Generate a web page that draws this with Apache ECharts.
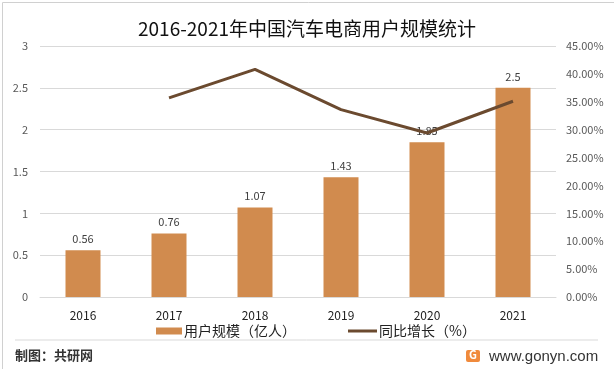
<!DOCTYPE html>
<html><head><meta charset="utf-8">
<script src="https://cdn.jsdelivr.net/npm/echarts@6/dist/echarts.min.js"></script>
<style>html,body{margin:0;padding:0;background:#fff}#c{width:614px;height:369px}</style>
</head><body><div id="c"></div>
<script>
const categories = ['2016','2017','2018','2019','2020','2021'];
const userScale = [0.56, 0.76, 1.07, 1.43, 1.85, 2.5];
const growthRate = [null, 35.7, 40.8, 33.6, 29.4, 35.1];
const leftTicks = [0, 0.5, 1, 1.5, 2, 2.5, 3];
const rightTicks = [0, 5, 10, 15, 20, 25, 30, 35, 40, 45];

const font = '"Noto Sans CJK SC", "Noto Sans", sans-serif';
const chart = echarts.init(document.getElementById('c'));
chart.setOption({
  animation: false,
  textStyle: { fontFamily: font },
  title: {
    text: '2016-2021年中国汽车电商用户规模统计',
    left: 'center', top: 14,
    textStyle: { fontSize: 19, fontWeight: 'normal', color: '#111', fontFamily: font }
  },
  grid: { left: 40, right: 58, top: 46, bottom: 72, containLabel: false },
  legend: [{
    top: 324, left: 156, padding: 0, itemWidth: 26, itemHeight: 7, itemGap: 2,
    textStyle: { fontSize: 14, color: '#222', padding: [0, 0, 0, -3] },
    data: [{ name: '用户规模（亿人）', icon: 'rect' }]
  }, {
    top: 324, left: 348, padding: 0, itemWidth: 29, itemHeight: 3,
    textStyle: { fontSize: 14, color: '#222', padding: [0, 0, 0, -3] },
    data: [{ name: '同比增长（%）', icon: 'rect' }]
  }],
  xAxis: {
    type: 'category', data: categories,
    axisLine: { lineStyle: { color: '#d9d9d9' } },
    axisTick: { show: false },
    axisLabel: { color: '#222', fontSize: 12, margin: 12 }
  },
  yAxis: [{
    type: 'value', min: leftTicks[0], max: leftTicks[leftTicks.length - 1], interval: 0.5,
    axisLine: { show: false }, axisTick: { show: false },
    axisLabel: { color: '#595959', fontSize: 11, margin: 12 },
    splitLine: { lineStyle: { color: '#d9d9d9' } }
  }, {
    type: 'value', min: rightTicks[0], max: rightTicks[rightTicks.length - 1], interval: 5,
    axisLine: { show: false }, axisTick: { show: false },
    axisLabel: { color: '#595959', fontSize: 11, margin: 10, formatter: v => v.toFixed(2) + '%' },
    splitLine: { show: false }
  }],
  series: [{
    name: '用户规模（亿人）', type: 'bar', data: userScale, barWidth: 35,
    itemStyle: { color: '#D18B4E' },
    label: { show: true, position: 'top', color: '#404040', fontSize: 11, distance: 6 }
  }, {
    name: '同比增长（%）', type: 'line', yAxisIndex: 1, data: growthRate,
    symbol: 'none', lineStyle: { color: '#6B4A2F', width: 3 }, itemStyle: { color: '#6B4A2F' }
  }],
  graphic: [
    { type: 'rect', left: 0, top: 0, shape: { width: 613, height: 368 }, style: { fill: 'none', stroke: '#d0d0d0', lineWidth: 1 } },
    { type: 'line', shape: { x1: 15, y1: 340, x2: 598, y2: 340 }, style: { stroke: '#d9d9d9', lineWidth: 1 } },
    { type: 'text', left: 15, top: 349, style: { text: '制图：共研网', fontSize: 13, fontWeight: 'bold', fill: '#333', fontFamily: font } },
    { type: 'rect', left: 466, top: 350, shape: { width: 14, height: 12, r: 2 }, style: { fill: '#F08A3C' } },
    { type: 'text', left: 469, top: 349, style: { text: 'G', fontSize: 11, fontWeight: 'bold', fill: '#fff', fontFamily: font } },
    { type: 'text', left: 489, top: 349, style: { text: 'www.gonyn.com', fontSize: 15, fill: '#333', fontFamily: 'Arial, "Liberation Sans", sans-serif' } }
  ]
});
</script></body></html>
